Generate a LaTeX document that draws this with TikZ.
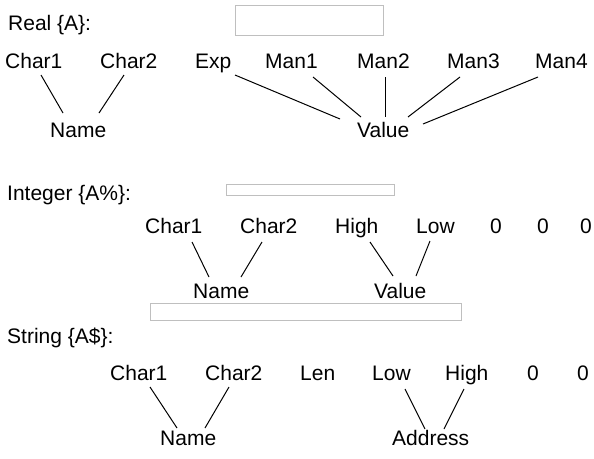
\documentclass[tikz,border=0pt]{standalone}
\usepackage{fontspec}
\setmainfont{Liberation Sans}
\usetikzlibrary{calc}
\tikzset{
  lbl/.style={anchor=base west,inner sep=0pt,font=\fontsize{21}{24}\selectfont},
  link/.style={line width=1pt,black},
  ghost/.style={draw=black!25,line width=0.8pt}
}
\begin{document}
\begin{tikzpicture}[x=1pt,y=-1pt]
\useasboundingbox (0,0) rectangle (594,458);
% faint boxes
\draw[ghost] (235,5) rectangle (383,35);
\draw[ghost] (226,184) rectangle (394,195);
\draw[ghost] (150,303) rectangle (461,320);
% Real
\node[lbl] (tr) at (8,30) {Real \{A\}:};
\node[lbl] (c1) at (5,68) {Char1};
\node[lbl] (c2) at (100,68) {Char2};
\node[lbl] (ex) at (195,68) {Exp};
\node[lbl] (m1) at (265,68) {Man1};
\node[lbl] (m2) at (357,68) {Man2};
\node[lbl] (m3) at (447,68) {Man3};
\node[lbl] (m4) at (535,68) {Man4};
\node[lbl] (nm) at (50,137) {Name};
\node[lbl] (va) at (357,137) {Value};
\draw[link] ($(c1.base west)+(36,7)$) -- ($(nm.base west)+(13,-24)$);
\draw[link] ($(c2.base west)+(24,7)$) -- ($(nm.base west)+(49,-24)$);
\draw[link] ($(ex.base west)+(40,7)$) -- ($(va.base west)+(-17,-18)$);
\draw[link] ($(m1.base west)+(48,9)$) -- ($(va.base west)+(4,-20)$);
\draw[link] ($(m2.base west)+(28,9)$) -- ($(va.base west)+(28,-20)$);
\draw[link] ($(m3.base west)+(13,9)$) -- ($(va.base west)+(51,-20)$);
\draw[link] ($(m4.base west)+(3,9)$) -- ($(va.base west)+(66,-13)$);
% Integer
\node[lbl] (ti) at (7,200) {Integer \{A\%\}:};
\node[lbl] (ic1) at (145,233) {Char1};
\node[lbl] (ic2) at (240,233) {Char2};
\node[lbl] (ihi) at (335,233) {High};
\node[lbl] (ilo) at (416,233) {Low};
\node[lbl] (iz1) at (490,233) {0};
\node[lbl] (iz2) at (537,233) {0};
\node[lbl] (iz3) at (580,233) {0};
\node[lbl] (inm) at (193,298) {Name};
\node[lbl] (iva) at (374,298) {Value};
\draw[link] ($(ic1.base west)+(47,9)$) -- ($(inm.base west)+(16,-21)$);
\draw[link] ($(ic2.base west)+(22,9)$) -- ($(inm.base west)+(48,-21)$);
\draw[link] ($(ihi.base west)+(35,9)$) -- ($(iva.base west)+(19,-22)$);
\draw[link] ($(ilo.base west)+(14,8)$) -- ($(iva.base west)+(42,-22)$);
% String
\node[lbl] (ts) at (7,343) {String \{A\$\}:};
\node[lbl] (sc1) at (110,380) {Char1};
\node[lbl] (sc2) at (205,380) {Char2};
\node[lbl] (sle) at (300,380) {Len};
\node[lbl] (slo) at (372,380) {Low};
\node[lbl] (shi) at (445,380) {High};
\node[lbl] (sz1) at (527,380) {0};
\node[lbl] (sz2) at (577,380) {0};
\node[lbl] (snm) at (160,445) {Name};
\node[lbl] (sad) at (392,445) {Address};
\draw[link] ($(sc1.base west)+(40,7)$) -- ($(snm.base west)+(17,-17)$);
\draw[link] ($(sc2.base west)+(24,7)$) -- ($(snm.base west)+(45,-17)$);
\draw[link] ($(slo.base west)+(33,9)$) -- ($(sad.base west)+(33,-16)$);
\draw[link] ($(shi.base west)+(19,9)$) -- ($(sad.base west)+(52,-16)$);
\end{tikzpicture}
\end{document}
